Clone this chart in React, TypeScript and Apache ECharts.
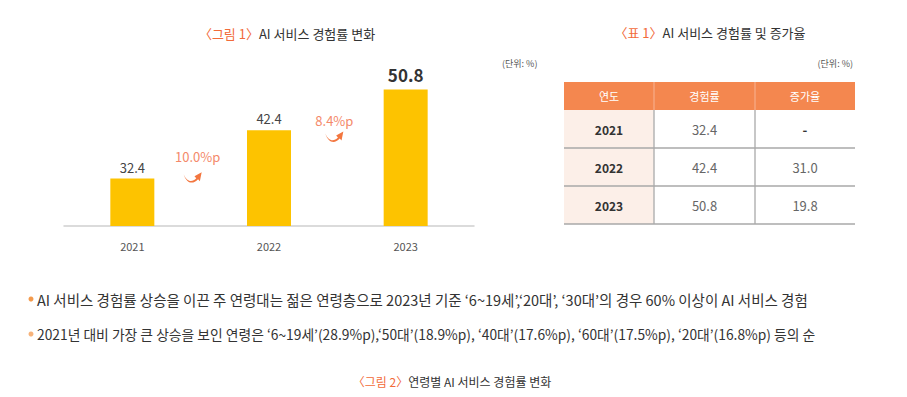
import React, { useEffect, useRef } from "react";
import * as echarts from "echarts";

const years = ["2021", "2022", "2023"];
const rates = [32.4, 42.4, 50.8];
const changeLabels = ["10.0%p", "8.4%p"];

const tableHeaders = ["연도", "경험률", "증가율"];
const tableYears = ["2021", "2022", "2023"];
const tableRates = ["32.4", "42.4", "50.8"];
const tableGrowth = ["-", "31.0", "19.8"];

const bullets = [
  "AI 서비스 경험률 상승을 이끈 주 연령대는 젊은 연령층으로 2023년 기준 ‘6~19세’,‘20대’, ‘30대’의 경우 60% 이상이 AI 서비스 경험",
  "2021년 대비 가장 큰 상승을 보인 연령은 ‘6~19세’(28.9%p),‘50대’(18.9%p), ‘40대’(17.6%p), ‘60대’(17.5%p), ‘20대’(16.8%p) 등의 순",
];

const ORANGE = "#F26B3A";
const FONT = '"Noto Sans CJK KR", "Noto Sans", sans-serif';

const arrowD =
  "M0,2 C3,9 9,11 14,6 L12,4 L20,0 L18,9 L16,7 C10,13 3,11 0,2 Z";

export default function App() {
  const ref = useRef<HTMLDivElement>(null);
  useEffect(() => {
    document.body.style.margin = "0";
    try {
      echarts.graphic.registerShape("swoosh", (echarts.graphic as any).extendPath(arrowD, {}));
    } catch (e) {}
    const chart = echarts.init(ref.current!, undefined, { renderer: "svg" });
    chart.setOption({
      animation: false,
      textStyle: { fontFamily: FONT },
      grid: { left: 64, top: 45, width: 410, height: 181, containLabel: false },
      xAxis: {
        type: "category",
        data: years,
        axisLine: { show: true, lineStyle: { color: "#cfcfcf", width: 1.5 } },
        axisTick: { show: false },
        axisLabel: { color: "#555", fontSize: 11, margin: 14, fontFamily: FONT },
      },
      yAxis: {
        type: "value",
        min: 22.6,
        max: 60,
        show: false,
        splitLine: { show: false },
      },
      series: [
        {
          type: "bar",
          barWidth: 44,
          itemStyle: { color: "#FDC300" },
          data: rates.map((v, i) => ({
            value: v,
            label:
              i === rates.length - 1
                ? { fontSize: 17, fontWeight: "bold", color: "#333", distance: 7 }
                : { fontSize: 13, color: "#444", distance: 5 },
          })),
          label: {
            show: true,
            position: "top",
            fontFamily: FONT,
            formatter: (p: any) => p.value.toFixed(1),
          },
        },
      ],
    });

    const px = (i: number, v: number) =>
      chart.convertToPixel({ gridIndex: 0 }, [i, v]) as number[];

    const graphics: any[] = [];
    graphics.push({
      type: "text",
      x: 287,
      y: 33,
      style: {
        text: "{a|〈그림 1〉}{b|AI 서비스 경험률 변화}",
        align: "center",
        verticalAlign: "middle",
        rich: {
          a: { fill: ORANGE, fontSize: 13, fontFamily: FONT },
          b: { fill: "#333", fontSize: 13, fontFamily: FONT },
        },
      },
    });
    graphics.push({
      type: "text",
      x: 710,
      y: 32,
      style: {
        text: "{a|〈표 1〉}{b|AI 서비스 경험률 및 증가율}",
        align: "center",
        verticalAlign: "middle",
        rich: {
          a: { fill: ORANGE, fontSize: 13, fontFamily: FONT },
          b: { fill: "#333", fontSize: 13, fontFamily: FONT },
        },
      },
    });
    graphics.push({
      type: "text",
      x: 502,
      y: 63,
      style: { text: "(단위: %)", fontSize: 9, fill: "#555", fontFamily: FONT, verticalAlign: "middle" },
    });
    graphics.push({
      type: "text",
      x: 853,
      y: 63,
      style: { text: "(단위: %)", fontSize: 9, fill: "#555", fontFamily: FONT, align: "right", verticalAlign: "middle" },
    });

    const textOffsets = [26, 31];
    const arrowOffsets = [49, 49];
    for (let i = 0; i < changeLabels.length; i++) {
      const a = px(i, rates[i + 1]);
      const b = px(i + 1, rates[i + 1]);
      const mid = (a[0] + b[0]) / 2;
      const topY = a[1];
      graphics.push({
        type: "text",
        x: mid - 3,
        y: topY + textOffsets[i],
        style: {
          text: changeLabels[i],
          fontSize: 13,
          fill: "#F4896A",
          fontFamily: FONT,
          align: "center",
          verticalAlign: "middle",
        },
      });
      graphics.push({
        type: "swoosh",
        x: mid - 17 + i * 5,
        y: topY + arrowOffsets[i] - 7,
        scaleX: 0.9,
        scaleY: 1.0,
        style: { fill: "#F3763F" },
      });
    }

    const colX = [564, 654, 755, 855];
    const rowY = [82, 110, 148, 186, 224];
    graphics.push({
      type: "rect",
      shape: { x: colX[0], y: rowY[0], width: colX[3] - colX[0], height: rowY[1] - rowY[0] },
      style: { fill: "#F4874F" },
    });
    graphics.push({
      type: "rect",
      shape: { x: colX[0], y: rowY[1], width: colX[1] - colX[0], height: rowY[4] - rowY[1] },
      style: { fill: "#FCEFE8" },
    });
    for (let c = 1; c < 3; c++) {
      graphics.push({
        type: "line",
        shape: { x1: colX[c], y1: rowY[0], x2: colX[c], y2: rowY[1] },
        style: { stroke: "#F7A57C", lineWidth: 1.5 },
      });
      graphics.push({
        type: "line",
        shape: { x1: colX[c], y1: rowY[1], x2: colX[c], y2: rowY[4] },
        style: { stroke: "#b5b5b5", lineWidth: 1.5 },
      });
    }
    for (let r = 2; r < 5; r++) {
      graphics.push({
        type: "line",
        shape: { x1: colX[0], y1: rowY[r], x2: colX[3], y2: rowY[r] },
        style: { stroke: "#a9a9a9", lineWidth: 1.5 },
      });
    }
    const cx = (c: number) => (colX[c] + colX[c + 1]) / 2;
    const cy = (r: number) => (rowY[r] + rowY[r + 1]) / 2;
    tableHeaders.forEach((h, c) =>
      graphics.push({
        type: "text",
        x: cx(c),
        y: cy(0),
        style: { text: h, fontSize: 11, fill: "#fff", fontFamily: FONT, align: "center", verticalAlign: "middle" },
      })
    );
    for (let r = 0; r < tableYears.length; r++) {
      const cells = [tableYears[r], tableRates[r], tableGrowth[r]];
      cells.forEach((t, c) =>
        graphics.push({
          type: "text",
          x: cx(c),
          y: cy(r + 1),
          style: {
            text: t,
            fontSize: c === 0 ? 12 : 13,
            fontWeight: c === 0 || t === "-" ? "bold" : "normal",
            fill: c === 0 || t === "-" ? "#333" : "#666",
            fontFamily: FONT,
            align: "center",
            verticalAlign: "middle",
          },
        })
      );
    }

    const bulletY = [299, 334];
    const bulletSizes = [14.5, 13.8];
    const bulletColors = ["#F39A4C", "#F6B27A"];
    bullets.forEach((t, i) => {
      graphics.push({
        type: "circle",
        shape: { cx: 31, cy: bulletY[i], r: 2.5 },
        style: { fill: bulletColors[i] },
      });
      graphics.push({
        type: "text",
        x: 37,
        y: bulletY[i],
        style: { text: t, fontSize: bulletSizes[i], fill: "#333", fontFamily: FONT, verticalAlign: "middle" },
      });
    });
    graphics.push({
      type: "text",
      x: 452,
      y: 381,
      style: {
        text: "{a|〈그림 2〉}{b|연령별 AI 서비스 경험률 변화}",
        align: "center",
        verticalAlign: "middle",
        rich: {
          a: { fill: ORANGE, fontSize: 12, fontFamily: FONT },
          b: { fill: "#333", fontSize: 12, fontFamily: FONT },
        },
      },
    });

    chart.setOption({ graphic: graphics });
    return () => chart.dispose();
  }, []);
  return <div ref={ref} style={{ width: 907, height: 397 }} />;
}
